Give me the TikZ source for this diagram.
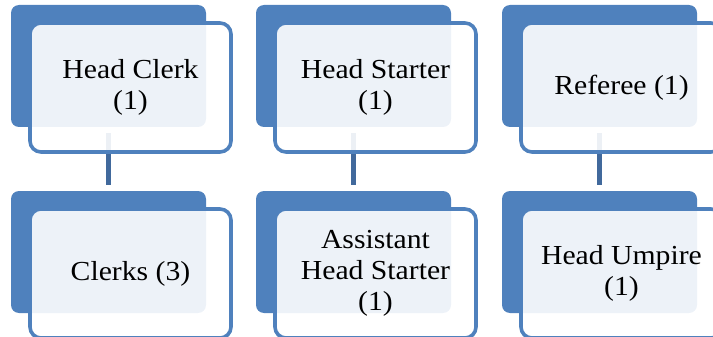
\documentclass[tikz,border=0pt]{standalone}
\usepackage{fontspec}
\setmainfont{Liberation Serif}[FakeStretch=1.08]
\usetikzlibrary{positioning}
\definecolor{officeblue}{HTML}{4F81BD}
\definecolor{linkblue}{HTML}{41699C}
\tikzset{
  back/.style={fill=officeblue, rounded corners=8pt, minimum width=195pt, minimum height=122pt, inner sep=0pt},
  frame/.style={draw=officeblue, fill=white, fill opacity=0.9, text opacity=1, line width=3.6pt,
    rounded corners=11pt, minimum width=201pt, minimum height=129pt, inner sep=0pt, align=center,
    font=\fontsize{27.5}{31}\selectfont, xshift=22pt, yshift=-21.5pt},
  link/.style={linkblue, line width=5pt, shorten <=6pt, shorten >=6pt},
}
\begin{document}
\begin{tikzpicture}[x=1pt,y=-1pt]
  \useasboundingbox (0,0) rectangle (713,337);
  % back cards
  \node[back] (clerkA) at (108.5,66) {};
  \node[back] (startA) at (353.5,66) {};
  \node[back] (refA) at (599.5,66) {};
  \node[back] (clerkB) at (108.5,252) {};
  \node[back] (startB) at (353.5,252) {};
  \node[back] (refB) at (599.5,252) {};

  % links between rows
  \draw[link] (clerkA.south) -- (clerkB.north);
  \draw[link] (startA.south) -- (startB.north);
  \draw[link] (refA.south) -- (refB.north);

  % front frames with labels
  \node[frame] (clerkAt) at (clerkA) {Head Clerk\\(1)};
  \node[frame] (startAt) at (startA) {Head Starter\\(1)};
  \node[frame] (refAt) at (refA) {Referee (1)};
  \node[frame] (clerkBt) at (clerkB) {Clerks (3)};
  \node[frame] (startBt) at (startB) {Assistant\\Head Starter\\(1)};
  \node[frame] (refBt) at (refB) {Head Umpire\\(1)};
\end{tikzpicture}
\end{document}
